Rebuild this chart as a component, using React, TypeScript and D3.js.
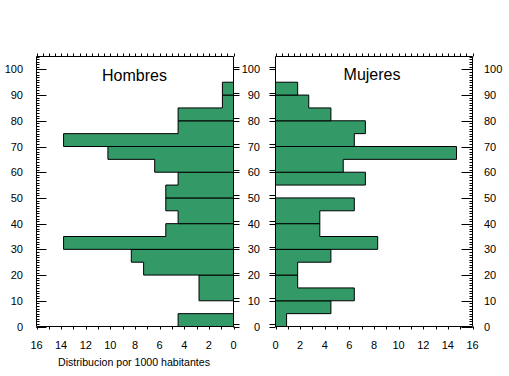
import React from "react";
import * as d3 from "d3";

// Age bins 0-5, 5-10, ..., 95-100 (per 1000 inhabitants)
const ageStarts = [0, 5, 10, 15, 20, 25, 30, 35, 40, 45, 50, 55, 60, 65, 70, 75, 80, 85, 90, 95];
const hombres = [4.5, 0, 2.8, 2.8, 7.3, 8.3, 13.8, 5.5, 4.5, 5.5, 5.5, 4.5, 6.4, 10.2, 13.8, 4.5, 4.5, 0.9, 0.9, 0];
const mujeres = [0.9, 4.5, 6.4, 1.8, 1.8, 4.5, 8.3, 3.6, 3.6, 6.4, 0, 7.3, 5.5, 14.7, 6.4, 7.3, 4.5, 2.7, 1.8, 0];
const yTicks = [0, 10, 20, 30, 40, 50, 60, 70, 80, 90, 100];
const xTicks = [0, 2, 4, 6, 8, 10, 12, 14, 16];
const titles = ["Hombres", "Mujeres"];
const xTitle = "Distribucion por 1000 habitantes";

const W = 509, H = 376;
const FONT = "Liberation Sans, Arial, sans-serif";
const GREEN = "#339966";

const y = d3.scaleLinear().domain([0, 105]).range([326.5, 56.5]);
const xL = d3.scaleLinear().domain([0, 16]).range([233.5, 36.5]);
const xR = d3.scaleLinear().domain([0, 16]).range([275.5, 472.5]);

function groupPaths(vals: number[], x: d3.ScaleLinear<number, number>) {
  const paths: string[] = [];
  for (let g = 0; g < 10; g++) {
    const a = vals[2 * g], b = vals[2 * g + 1];
    if (a === 0 && b === 0) continue;
    const y0 = y(ageStarts[2 * g]), y1 = y(ageStarts[2 * g] + 5), y2 = y(ageStarts[2 * g] + 10);
    const p = d3.path();
    if (a > 0 && b > 0) {
      p.moveTo(x(0), y0); p.lineTo(x(a), y0); p.lineTo(x(a), y1); p.lineTo(x(b), y1);
      p.lineTo(x(b), y2); p.lineTo(x(0), y2); p.closePath();
    } else if (a > 0) {
      p.moveTo(x(0), y0); p.lineTo(x(a), y0); p.lineTo(x(a), y1); p.lineTo(x(0), y1); p.closePath();
    } else {
      p.moveTo(x(0), y1); p.lineTo(x(b), y1); p.lineTo(x(b), y2); p.lineTo(x(0), y2); p.closePath();
    }
    paths.push(p.toString());
  }
  return paths;
}

const minorY = d3.range(0, 106, 1);
const halfX = d3.range(0, 16.01, 0.5);
const unitX = d3.range(0, 17, 1);

export default function App() {
  const lines: JSX.Element[] = [];
  let k = 0;
  const L = (x1: number, y1: number, x2: number, y2: number) =>
    lines.push(<line key={k++} x1={x1} y1={y1} x2={x2} y2={y2} stroke="#000" strokeWidth={1} />);

  [xL, xR].forEach((x) => {
    L(x(16), y(105), x(0), y(105));
    L(x(16), y(0), x(0), y(0));
    L(x(0), y(0), x(0), y(105));
    L(x(16), y(0), x(16), y(105));
    halfX.forEach((v) => L(Math.round(x(v)) + 0.5, y(105), Math.round(x(v)) + 0.5, y(105) - 3));
    unitX.forEach((v) => L(Math.round(x(v)) + 0.5, y(0), Math.round(x(v)) + 0.5, y(0) + 3));
  });
  minorY.forEach((v) => {
    const yy = Math.round(y(v)) + 0.5;
    L(xL(16), yy, xL(16) + 3, yy);
    L(xR(16), yy, xR(16) - 3, yy);
  });
  yTicks.forEach((v) => {
    const yy = Math.round(y(v)) + 0.5;
    L(xL(16), yy, xL(16) + 10, yy);
    L(xR(16), yy, xR(16) - 11, yy);
    const yy2 = Math.round(y(v + 1)) + 0.5;
    L(xL(0), yy, xL(0) + 6, yy);
    L(xL(0), yy2, xL(0) + 6, yy2);
    L(xR(0), yy, xR(0) - 6, yy);
    L(xR(0), yy2, xR(0) - 6, yy2);
  });

  return (
    <svg width={W} height={H} style={{ position: "absolute", left: 0, top: 0, background: "#fff" }}>
      <rect x={0} y={0} width={W} height={H} fill="#fff" />
      {groupPaths(hombres, xL).map((d, i) => (
        <path key={"h" + i} d={d} fill={GREEN} stroke="#000" strokeWidth={1} />
      ))}
      {groupPaths(mujeres, xR).map((d, i) => (
        <path key={"m" + i} d={d} fill={GREEN} stroke="#000" strokeWidth={1} />
      ))}
      {lines}
      <g fontFamily={FONT} fontSize={11} fill="#000">
        {yTicks.map((v) => (
          <text key={"yl" + v} x={23} y={y(v) + 4} textAnchor="end">{v}</text>
        ))}
        {yTicks.map((v) => (
          <text key={"ym" + v} x={260} y={y(v) + 4} textAnchor="end">{v}</text>
        ))}
        {yTicks.map((v) => (
          <text key={"yr" + v} x={484} y={y(v) + 4} textAnchor="start">{v}</text>
        ))}
        {xTicks.map((v) => (
          <text key={"xl" + v} x={xL(v)} y={349} textAnchor="middle">{v}</text>
        ))}
        {xTicks.map((v) => (
          <text key={"xr" + v} x={xR(v)} y={349} textAnchor="middle">{v}</text>
        ))}
      </g>
      <text x={134.5} y={81} fontFamily={FONT} fontSize={16} textAnchor="middle">{titles[0]}</text>
      <text x={372} y={80} fontFamily={FONT} fontSize={16} textAnchor="middle">{titles[1]}</text>
      <text x={134} y={366} fontFamily={FONT} fontSize={10.6} textAnchor="middle">{xTitle}</text>
    </svg>
  );
}
